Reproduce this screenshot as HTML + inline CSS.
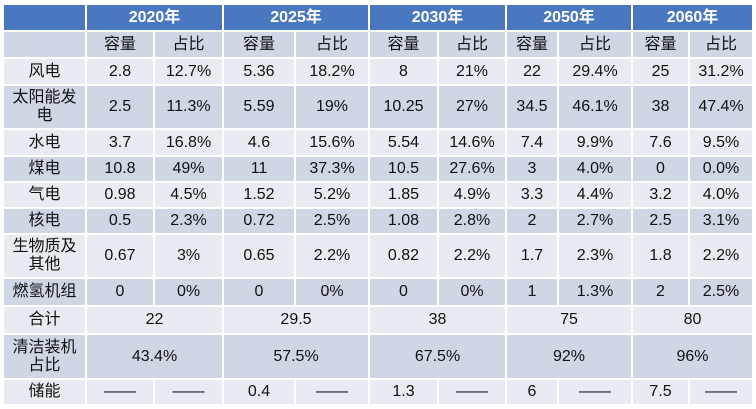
<!DOCTYPE html>
<html><head><meta charset="utf-8"><style>
body{margin:0;background:#fff;width:756px;height:409px;overflow:hidden}
table{position:absolute;left:2px;top:3px;border-collapse:collapse;table-layout:fixed;font-family:"Liberation Sans","Noto Sans CJK SC",sans-serif;font-size:16px;color:#111}
td{border:2px solid #fff;text-align:center;padding:0;line-height:18px;white-space:nowrap}
tr.h td{background:#4a78c0;color:#fff;font-weight:bold;font-size:16px}
tr.a td{background:#cfd6e4}
tr.b td{background:#e8ebf2}
</style></head><body>
<table>
<colgroup><col style="width:83px"><col style="width:68px"><col style="width:69px"><col style="width:72px"><col style="width:74px"><col style="width:69px"><col style="width:68px"><col style="width:52px"><col style="width:74px"><col style="width:57px"><col style="width:64px"></colgroup>
<tr class="h" style="height:27px"><td></td><td colspan="2">2020年</td><td colspan="2">2025年</td><td colspan="2">2030年</td><td colspan="2">2050年</td><td colspan="2">2060年</td></tr>
<tr class="a" style="height:27px"><td></td><td>容量</td><td>占比</td><td>容量</td><td>占比</td><td>容量</td><td>占比</td><td>容量</td><td>占比</td><td>容量</td><td>占比</td></tr>
<tr class="b" style="height:27px"><td>风电</td><td>2.8</td><td>12.7%</td><td>5.36</td><td>18.2%</td><td>8</td><td>21%</td><td>22</td><td>29.4%</td><td>25</td><td>31.2%</td></tr>
<tr class="a" style="height:44px"><td>太阳能发<br>电</td><td>2.5</td><td>11.3%</td><td>5.59</td><td>19%</td><td>10.25</td><td>27%</td><td>34.5</td><td>46.1%</td><td>38</td><td>47.4%</td></tr>
<tr class="b" style="height:27px"><td>水电</td><td>3.7</td><td>16.8%</td><td>4.6</td><td>15.6%</td><td>5.54</td><td>14.6%</td><td>7.4</td><td>9.9%</td><td>7.6</td><td>9.5%</td></tr>
<tr class="a" style="height:26px"><td>煤电</td><td>10.8</td><td>49%</td><td>11</td><td>37.3%</td><td>10.5</td><td>27.6%</td><td>3</td><td>4.0%</td><td>0</td><td>0.0%</td></tr>
<tr class="b" style="height:26px"><td>气电</td><td>0.98</td><td>4.5%</td><td>1.52</td><td>5.2%</td><td>1.85</td><td>4.9%</td><td>3.3</td><td>4.4%</td><td>3.2</td><td>4.0%</td></tr>
<tr class="a" style="height:26px"><td>核电</td><td>0.5</td><td>2.3%</td><td>0.72</td><td>2.5%</td><td>1.08</td><td>2.8%</td><td>2</td><td>2.7%</td><td>2.5</td><td>3.1%</td></tr>
<tr class="b" style="height:44px"><td>生物质及<br>其他</td><td>0.67</td><td>3%</td><td>0.65</td><td>2.2%</td><td>0.82</td><td>2.2%</td><td>1.7</td><td>2.3%</td><td>1.8</td><td>2.2%</td></tr>
<tr class="a" style="height:28px"><td>燃氢机组</td><td>0</td><td>0%</td><td>0</td><td>0%</td><td>0</td><td>0%</td><td>1</td><td>1.3%</td><td>2</td><td>2.5%</td></tr>
<tr class="b" style="height:28px"><td>合计</td><td colspan="2">22</td><td colspan="2">29.5</td><td colspan="2">38</td><td colspan="2">75</td><td colspan="2">80</td></tr>
<tr class="a" style="height:45px"><td>清洁装机<br>占比</td><td colspan="2">43.4%</td><td colspan="2">57.5%</td><td colspan="2">67.5%</td><td colspan="2">92%</td><td colspan="2">96%</td></tr>
<tr class="b" style="height:26px"><td>储能</td><td>——</td><td>——</td><td>0.4</td><td>——</td><td>1.3</td><td>——</td><td>6</td><td>——</td><td>7.5</td><td>——</td></tr>
</table>
</body></html>
